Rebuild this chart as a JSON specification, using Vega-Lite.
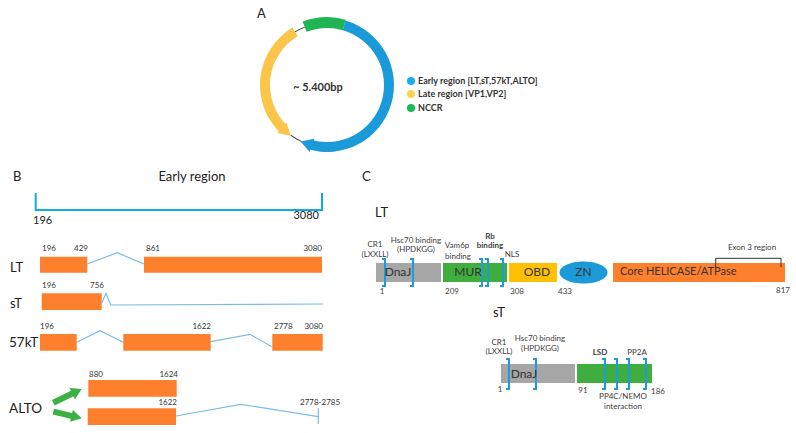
{
"$schema":"https://vega.github.io/schema/vega-lite/v6.json",
"width":796,"height":433,"autosize":"none","padding":0,"background":"white",
"config":{"view":{"stroke":null},"text":{"font":"Lato"}},
"datasets":{
"arcs":[
{"cx":327,"cy":85,"t1":16,"t2":197,"ri":57,"ro":67,"c":"blue"},
{"cx":327,"cy":85,"t1":224,"t2":329,"ri":57,"ro":67,"c":"yellow"},
{"cx":327,"cy":85,"t1":339,"t2":376,"ri":57,"ro":68,"c":"green"},
{"cx":327,"cy":85,"t1":204,"t2":216,"ri":61.5,"ro":62.5,"c":"black"},
{"cx":327,"cy":85,"t1":329,"t2":339,"ri":61.5,"ro":62.5,"c":"black"}
],
"heads":[
{"x":306.3,"y":143.4,"a":289.5,"c":"blue"},
{"x":286.3,"y":131.8,"a":131,"c":"yellow"}
],
"gheads":[
{"x":77,"y":391.3,"a":64,"c":"ga"},
{"x":76.6,"y":417.1,"a":103,"c":"ga"}
],
"segs":[
{"x":53.3,"y":402.7,"x2":77,"y2":391.3,"c":"ga"},
{"x":53.3,"y":411.7,"x2":76.6,"y2":417.1,"c":"ga"}
],
"legend":[
{"x":411,"y":81,"c":"lb"},{"x":411,"y":94,"c":"ly"},{"x":411,"y":108,"c":"lg"}
],
"zn":[{"x":583.5,"y":272.5,"c":"zn"}],
"rects":[
{"x":40,"x2":87.3,"y":256.7,"y2":272.7,"c":"or"},
{"x":144,"x2":322,"y":256.7,"y2":272.7,"c":"or"},
{"x":41.7,"x2":101.7,"y":293.3,"y2":310,"c":"or"},
{"x":40,"x2":76.7,"y":334,"y2":350.7,"c":"or"},
{"x":123.3,"x2":210.7,"y":334,"y2":350.7,"c":"or"},
{"x":272.3,"x2":322.7,"y":334,"y2":350.7,"c":"or"},
{"x":88.3,"x2":176.7,"y":380,"y2":396.7,"c":"or"},
{"x":87.7,"x2":176,"y":408.3,"y2":425,"c":"or"},
{"x":376,"x2":441,"y":263,"y2":282,"c":"grey"},
{"x":443,"x2":507,"y":263,"y2":282,"c":"mur"},
{"x":509,"x2":557,"y":263,"y2":282,"c":"obd"},
{"x":613,"x2":785,"y":263,"y2":282,"c":"or"},
{"x":501,"x2":575,"y":364,"y2":383,"c":"grey"},
{"x":577,"x2":652,"y":364,"y2":383,"c":"mur"}
],
"lines":[
{"g":"i1","i":1,"x":87.3,"y":264,"k":"intr"},{"g":"i1","i":2,"x":117.3,"y":252.7,"k":"intr"},{"g":"i1","i":3,"x":144,"y":264,"k":"intr"},
{"g":"i2","i":1,"x":101.7,"y":303.3,"k":"intr"},{"g":"i2","i":2,"x":106,"y":293.3,"k":"intr"},{"g":"i2","i":3,"x":110.7,"y":305,"k":"intr"},{"g":"i2","i":4,"x":323.3,"y":304,"k":"intr"},
{"g":"i3","i":1,"x":76.7,"y":342.3,"k":"intr"},{"g":"i3","i":2,"x":100,"y":330.7,"k":"intr"},{"g":"i3","i":3,"x":123.3,"y":342.3,"k":"intr"},
{"g":"i4","i":1,"x":210.7,"y":341.7,"k":"intr"},{"g":"i4","i":2,"x":250,"y":334.3,"k":"intr"},{"g":"i4","i":3,"x":271.7,"y":346.7,"k":"intr"},
{"g":"i5","i":1,"x":176,"y":416,"k":"intr"},{"g":"i5","i":2,"x":240.7,"y":404.3,"k":"intr"},{"g":"i5","i":3,"x":318.3,"y":416.7,"k":"intr"},
{"g":"i6","i":1,"x":318.3,"y":408.3,"k":"intr"},{"g":"i6","i":2,"x":318.3,"y":424,"k":"intr"},
{"g":"er","i":1,"x":35.7,"y":193,"k":"er"},{"g":"er","i":2,"x":35.7,"y":210,"k":"er"},{"g":"er","i":3,"x":322,"y":210,"k":"er"},{"g":"er","i":4,"x":322,"y":193,"k":"er"},
{"g":"ex","i":1,"x":715.7,"y":267,"k":"ex"},{"g":"ex","i":2,"x":715.7,"y":258.3,"k":"ex"},{"g":"ex","i":3,"x":781,"y":258.3,"k":"ex"},{"g":"ex","i":4,"x":781,"y":267,"k":"ex"},
{"g":"b1","i":1,"x":382,"y":259,"k":"br"},{"g":"b1","i":2,"x":385,"y":259,"k":"br"},{"g":"b1","i":3,"x":385,"y":286,"k":"br"},{"g":"b1","i":4,"x":382,"y":286,"k":"br"},
{"g":"b2","i":1,"x":410,"y":259,"k":"br"},{"g":"b2","i":2,"x":413,"y":259,"k":"br"},{"g":"b2","i":3,"x":413,"y":286,"k":"br"},{"g":"b2","i":4,"x":410,"y":286,"k":"br"},
{"g":"b3","i":1,"x":479,"y":259,"k":"br"},{"g":"b3","i":2,"x":482,"y":259,"k":"br"},{"g":"b3","i":3,"x":482,"y":286,"k":"br"},{"g":"b3","i":4,"x":479,"y":286,"k":"br"},
{"g":"b4","i":1,"x":485,"y":259,"k":"br"},{"g":"b4","i":2,"x":488,"y":259,"k":"br"},{"g":"b4","i":3,"x":488,"y":286,"k":"br"},{"g":"b4","i":4,"x":485,"y":286,"k":"br"},
{"g":"b5","i":1,"x":500,"y":259,"k":"br"},{"g":"b5","i":2,"x":503,"y":259,"k":"br"},{"g":"b5","i":3,"x":503,"y":286,"k":"br"},{"g":"b5","i":4,"x":500,"y":286,"k":"br"},
{"g":"s1","i":1,"x":506,"y":359,"k":"br"},{"g":"s1","i":2,"x":509,"y":359,"k":"br"},{"g":"s1","i":3,"x":509,"y":389,"k":"br"},{"g":"s1","i":4,"x":506,"y":389,"k":"br"},
{"g":"s2","i":1,"x":533,"y":359,"k":"br"},{"g":"s2","i":2,"x":536,"y":359,"k":"br"},{"g":"s2","i":3,"x":536,"y":389,"k":"br"},{"g":"s2","i":4,"x":533,"y":389,"k":"br"},
{"g":"s3","i":1,"x":602,"y":359,"k":"br"},{"g":"s3","i":2,"x":605,"y":359,"k":"br"},{"g":"s3","i":3,"x":605,"y":389,"k":"br"},{"g":"s3","i":4,"x":602,"y":389,"k":"br"},
{"g":"s4","i":1,"x":614,"y":359,"k":"br"},{"g":"s4","i":2,"x":617,"y":359,"k":"br"},{"g":"s4","i":3,"x":617,"y":389,"k":"br"},{"g":"s4","i":4,"x":614,"y":389,"k":"br"},
{"g":"s5","i":1,"x":626,"y":359,"k":"br"},{"g":"s5","i":2,"x":629,"y":359,"k":"br"},{"g":"s5","i":3,"x":629,"y":389,"k":"br"},{"g":"s5","i":4,"x":626,"y":389,"k":"br"},
{"g":"s6","i":1,"x":643,"y":359,"k":"br"},{"g":"s6","i":2,"x":646,"y":359,"k":"br"},{"g":"s6","i":3,"x":646,"y":389,"k":"br"},{"g":"s6","i":4,"x":643,"y":389,"k":"br"}
],
"texts":[
{"x":257,"y":14,"t":"A","k":"h13"},{"x":13,"y":177,"t":"B","k":"h13"},{"x":362,"y":177,"t":"C","k":"h13"},
{"x":10,"y":268,"t":"LT","k":"h13"},{"x":10,"y":304,"t":"sT","k":"h13"},{"x":375,"y":213,"t":"LT","k":"h13"},{"x":493,"y":313,"t":"sT","k":"h13"},
{"x":9,"y":343,"t":"57kT","k":"h14"},{"x":9,"y":409,"t":"ALTO","k":"h14"},
{"x":192,"y":177,"t":"Early region","k":"title"},
{"x":33,"y":221,"t":"196","k":"axl"},{"x":319,"y":216,"t":"3080","k":"axr"},
{"x":42,"y":249,"t":"196","k":"nl"},{"x":74,"y":249,"t":"429","k":"nl"},{"x":146,"y":249,"t":"861","k":"nl"},
{"x":42,"y":286,"t":"196","k":"nl"},{"x":90,"y":286,"t":"756","k":"nl"},
{"x":40,"y":327,"t":"196","k":"nl"},{"x":274,"y":327,"t":"2778","k":"nl"},
{"x":89,"y":375,"t":"880","k":"nl"},{"x":300,"y":403,"t":"2778-2785","k":"nl"},
{"x":322,"y":249,"t":"3080","k":"nr"},{"x":211,"y":327,"t":"1622","k":"nr"},{"x":323,"y":327,"t":"3080","k":"nr"},
{"x":178,"y":375,"t":"1624","k":"nr"},{"x":177,"y":403,"t":"1622","k":"nr"},
{"x":375,"y":245,"t":"CR1","k":"sc"},{"x":375,"y":254.5,"t":"(LXXLL)","k":"sc"},
{"x":416,"y":241,"t":"Hsc70 binding","k":"sc"},{"x":416,"y":250,"t":"(HPDKGG)","k":"sc"},
{"x":457,"y":246,"t":"Vam6p","k":"sc"},{"x":458,"y":257,"t":"binding","k":"sc"},
{"x":512,"y":255,"t":"NLS","k":"sc"},{"x":752,"y":248,"t":"Exon 3 region","k":"sc"},
{"x":382,"y":292,"t":"1","k":"sc"},{"x":452,"y":292,"t":"209","k":"sc"},{"x":517,"y":292,"t":"308","k":"sc"},{"x":565,"y":292,"t":"433","k":"sc"},{"x":783,"y":291,"t":"817","k":"sc"},
{"x":499,"y":343,"t":"CR1","k":"sc"},{"x":499,"y":352,"t":"(LXXLL)","k":"sc"},
{"x":540,"y":339,"t":"Hsc70 binding","k":"sc"},{"x":540,"y":349,"t":"(HPDKGG)","k":"sc"},
{"x":637,"y":353,"t":"PP2A","k":"sc"},
{"x":500,"y":390,"t":"1","k":"sc"},{"x":583,"y":391,"t":"91","k":"sc"},{"x":623,"y":397,"t":"PP4C/NEMO","k":"sc"},{"x":623,"y":407,"t":"interaction","k":"sc"},{"x":658,"y":392,"t":"186","k":"sc"},
{"x":490,"y":236.5,"t":"Rb","k":"sb"},{"x":490,"y":246,"t":"binding","k":"sb"},{"x":600,"y":353,"t":"LSD","k":"sb"},
{"x":398,"y":272,"t":"DnaJ","k":"dom"},{"x":468,"y":272,"t":"MUR","k":"dom"},{"x":537,"y":272,"t":"OBD","k":"dom"},{"x":583.5,"y":272,"t":"ZN","k":"dom"},{"x":524,"y":374,"t":"DnaJ","k":"dom"},
{"x":620,"y":272,"t":"Core HELICASE/ATPase","k":"doml"},
{"x":418,"y":81,"t":"Early region [LT,sT,57kT,ALTO]","k":"leg"},{"x":418,"y":94,"t":"Late region [VP1,VP2]","k":"leg"},{"x":418,"y":108,"t":"NCCR","k":"leg"},
{"x":318,"y":88,"t":"~ 5.400bp","k":"ctr"}
]
},
"layer":[
{"data":{"name":"rects"},"mark":{"type":"rect"},
 "encoding":{
  "x":{"field":"x","type":"quantitative","scale":{"domain":[0,796],"nice":false,"zero":false},"axis":null},
  "x2":{"field":"x2"},
  "y":{"field":"y","type":"quantitative","scale":{"domain":[0,433],"nice":false,"zero":false,"reverse":true},"axis":null},
  "y2":{"field":"y2"},
  "color":{"field":"c","type":"nominal","legend":null,"scale":{"domain":["blue","yellow","green","black","lb","ly","lg","or","grey","mur","obd","zn","ga"],"range":["#1a9ad9","#fbc54a","#1fb555","#333333","#17b0ef","#ffd34f","#1db954","#fe7f2c","#a6a6a6","#3fae3f","#ffc000","#1c9ad8","#3cb043"]}}
 }},
{"data":{"name":"arcs"},"mark":{"type":"arc"},
 "encoding":{
  "x":{"field":"cx","type":"quantitative","scale":{"domain":[0,796],"nice":false,"zero":false},"axis":null},
  "y":{"field":"cy","type":"quantitative","scale":{"domain":[0,433],"nice":false,"zero":false,"reverse":true},"axis":null},
  "theta":{"field":"t1","type":"quantitative","scale":{"type":"linear","domain":[0,360],"range":[0,6.283185307],"zero":false,"nice":false}},
  "theta2":{"field":"t2"},
  "radius":{"field":"ri","type":"quantitative","scale":{"type":"linear","domain":[0,100],"range":[0,100],"zero":true,"nice":false}},
  "radius2":{"field":"ro"},
  "color":{"field":"c","type":"nominal","legend":null,"scale":{"domain":["blue","yellow","green","black","lb","ly","lg","or","grey","mur","obd","zn","ga"],"range":["#1a9ad9","#fbc54a","#1fb555","#333333","#17b0ef","#ffd34f","#1db954","#fe7f2c","#a6a6a6","#3fae3f","#ffc000","#1c9ad8","#3cb043"]}}
 }},
{"data":{"name":"heads"},"mark":{"type":"point","shape":"triangle-up","filled":true,"size":196,"opacity":1},
 "encoding":{
  "x":{"field":"x","type":"quantitative","scale":{"domain":[0,796],"nice":false,"zero":false},"axis":null},
  "y":{"field":"y","type":"quantitative","scale":{"domain":[0,433],"nice":false,"zero":false,"reverse":true},"axis":null},
  "angle":{"field":"a","type":"quantitative","scale":null},
  "color":{"field":"c","type":"nominal","legend":null,"scale":{"domain":["blue","yellow","green","black","lb","ly","lg","or","grey","mur","obd","zn","ga"],"range":["#1a9ad9","#fbc54a","#1fb555","#333333","#17b0ef","#ffd34f","#1db954","#fe7f2c","#a6a6a6","#3fae3f","#ffc000","#1c9ad8","#3cb043"]}}
 }},
{"data":{"name":"segs"},"mark":{"type":"rule","strokeWidth":6,"strokeCap":"butt"},
 "encoding":{
  "x":{"field":"x","type":"quantitative","scale":{"domain":[0,796],"nice":false,"zero":false},"axis":null},
  "x2":{"field":"x2"},
  "y":{"field":"y","type":"quantitative","scale":{"domain":[0,433],"nice":false,"zero":false,"reverse":true},"axis":null},
  "y2":{"field":"y2"},
  "color":{"field":"c","type":"nominal","legend":null,"scale":{"domain":["blue","yellow","green","black","lb","ly","lg","or","grey","mur","obd","zn","ga"],"range":["#1a9ad9","#fbc54a","#1fb555","#333333","#17b0ef","#ffd34f","#1db954","#fe7f2c","#a6a6a6","#3fae3f","#ffc000","#1c9ad8","#3cb043"]}}
 }},
{"data":{"name":"gheads"},"mark":{"type":"point","shape":"triangle-up","filled":true,"size":150,"opacity":1},
 "encoding":{
  "x":{"field":"x","type":"quantitative","scale":{"domain":[0,796],"nice":false,"zero":false},"axis":null},
  "y":{"field":"y","type":"quantitative","scale":{"domain":[0,433],"nice":false,"zero":false,"reverse":true},"axis":null},
  "angle":{"field":"a","type":"quantitative","scale":null},
  "color":{"field":"c","type":"nominal","legend":null,"scale":{"domain":["blue","yellow","green","black","lb","ly","lg","or","grey","mur","obd","zn","ga"],"range":["#1a9ad9","#fbc54a","#1fb555","#333333","#17b0ef","#ffd34f","#1db954","#fe7f2c","#a6a6a6","#3fae3f","#ffc000","#1c9ad8","#3cb043"]}}
 }},
{"data":{"name":"legend"},"mark":{"type":"point","shape":"circle","filled":true,"size":64,"opacity":1},
 "encoding":{
  "x":{"field":"x","type":"quantitative","scale":{"domain":[0,796],"nice":false,"zero":false},"axis":null},
  "y":{"field":"y","type":"quantitative","scale":{"domain":[0,433],"nice":false,"zero":false,"reverse":true},"axis":null},
  "color":{"field":"c","type":"nominal","legend":null,"scale":{"domain":["blue","yellow","green","black","lb","ly","lg","or","grey","mur","obd","zn","ga"],"range":["#1a9ad9","#fbc54a","#1fb555","#333333","#17b0ef","#ffd34f","#1db954","#fe7f2c","#a6a6a6","#3fae3f","#ffc000","#1c9ad8","#3cb043"]}}
 }},
{"data":{"name":"zn"},"mark":{"type":"point","shape":"M-1,0A1,0.46,0,1,1,1,0A1,0.46,0,1,1,-1,0Z","filled":true,"size":2304,"opacity":1},
 "encoding":{
  "x":{"field":"x","type":"quantitative","scale":{"domain":[0,796],"nice":false,"zero":false},"axis":null},
  "y":{"field":"y","type":"quantitative","scale":{"domain":[0,433],"nice":false,"zero":false,"reverse":true},"axis":null},
  "color":{"field":"c","type":"nominal","legend":null,"scale":{"domain":["blue","yellow","green","black","lb","ly","lg","or","grey","mur","obd","zn","ga"],"range":["#1a9ad9","#fbc54a","#1fb555","#333333","#17b0ef","#ffd34f","#1db954","#fe7f2c","#a6a6a6","#3fae3f","#ffc000","#1c9ad8","#3cb043"]}}
 }},
{"data":{"name":"lines"},"transform":[{"filter":"datum.k==='intr'"}],"mark":{"type":"line","color":"#78bde9","strokeWidth":1.2},
 "encoding":{
  "x":{"field":"x","type":"quantitative","scale":{"domain":[0,796],"nice":false,"zero":false},"axis":null},
  "y":{"field":"y","type":"quantitative","scale":{"domain":[0,433],"nice":false,"zero":false,"reverse":true},"axis":null},
  "detail":{"field":"g"},"order":{"field":"i"}
 }},
{"data":{"name":"lines"},"transform":[{"filter":"datum.k==='er'"}],"mark":{"type":"line","color":"#12a9e6","strokeWidth":2},
 "encoding":{
  "x":{"field":"x","type":"quantitative","scale":{"domain":[0,796],"nice":false,"zero":false},"axis":null},
  "y":{"field":"y","type":"quantitative","scale":{"domain":[0,433],"nice":false,"zero":false,"reverse":true},"axis":null},
  "detail":{"field":"g"},"order":{"field":"i"}
 }},
{"data":{"name":"lines"},"transform":[{"filter":"datum.k==='ex'"}],"mark":{"type":"line","color":"#333333","strokeWidth":1},
 "encoding":{
  "x":{"field":"x","type":"quantitative","scale":{"domain":[0,796],"nice":false,"zero":false},"axis":null},
  "y":{"field":"y","type":"quantitative","scale":{"domain":[0,433],"nice":false,"zero":false,"reverse":true},"axis":null},
  "detail":{"field":"g"},"order":{"field":"i"}
 }},
{"data":{"name":"lines"},"transform":[{"filter":"datum.k==='br'"}],"mark":{"type":"line","color":"#1c9be0","strokeWidth":2},
 "encoding":{
  "x":{"field":"x","type":"quantitative","scale":{"domain":[0,796],"nice":false,"zero":false},"axis":null},
  "y":{"field":"y","type":"quantitative","scale":{"domain":[0,433],"nice":false,"zero":false,"reverse":true},"axis":null},
  "detail":{"field":"g"},"order":{"field":"i"}
 }},
{"data":{"name":"texts"},"transform":[{"filter":"datum.k==='h13'"}],"mark":{"type":"text","align":"left","baseline":"middle","fontSize":13,"color":"#222222"},
 "encoding":{"x":{"field":"x","type":"quantitative","scale":{"domain":[0,796],"nice":false,"zero":false},"axis":null},"y":{"field":"y","type":"quantitative","scale":{"domain":[0,433],"nice":false,"zero":false,"reverse":true},"axis":null},"text":{"field":"t"}}},
{"data":{"name":"texts"},"transform":[{"filter":"datum.k==='h14'"}],"mark":{"type":"text","align":"left","baseline":"middle","fontSize":13.5,"color":"#222222"},
 "encoding":{"x":{"field":"x","type":"quantitative","scale":{"domain":[0,796],"nice":false,"zero":false},"axis":null},"y":{"field":"y","type":"quantitative","scale":{"domain":[0,433],"nice":false,"zero":false,"reverse":true},"axis":null},"text":{"field":"t"}}},
{"data":{"name":"texts"},"transform":[{"filter":"datum.k==='title'"}],"mark":{"type":"text","align":"center","baseline":"middle","fontSize":13,"color":"#222222"},
 "encoding":{"x":{"field":"x","type":"quantitative","scale":{"domain":[0,796],"nice":false,"zero":false},"axis":null},"y":{"field":"y","type":"quantitative","scale":{"domain":[0,433],"nice":false,"zero":false,"reverse":true},"axis":null},"text":{"field":"t"}}},
{"data":{"name":"texts"},"transform":[{"filter":"datum.k==='axl'"}],"mark":{"type":"text","align":"left","baseline":"middle","fontSize":11,"color":"#222222"},
 "encoding":{"x":{"field":"x","type":"quantitative","scale":{"domain":[0,796],"nice":false,"zero":false},"axis":null},"y":{"field":"y","type":"quantitative","scale":{"domain":[0,433],"nice":false,"zero":false,"reverse":true},"axis":null},"text":{"field":"t"}}},
{"data":{"name":"texts"},"transform":[{"filter":"datum.k==='axr'"}],"mark":{"type":"text","align":"right","baseline":"middle","fontSize":11,"color":"#222222"},
 "encoding":{"x":{"field":"x","type":"quantitative","scale":{"domain":[0,796],"nice":false,"zero":false},"axis":null},"y":{"field":"y","type":"quantitative","scale":{"domain":[0,433],"nice":false,"zero":false,"reverse":true},"axis":null},"text":{"field":"t"}}},
{"data":{"name":"texts"},"transform":[{"filter":"datum.k==='nl'"}],"mark":{"type":"text","align":"left","baseline":"middle","fontSize":8,"color":"#333333"},
 "encoding":{"x":{"field":"x","type":"quantitative","scale":{"domain":[0,796],"nice":false,"zero":false},"axis":null},"y":{"field":"y","type":"quantitative","scale":{"domain":[0,433],"nice":false,"zero":false,"reverse":true},"axis":null},"text":{"field":"t"}}},
{"data":{"name":"texts"},"transform":[{"filter":"datum.k==='nr'"}],"mark":{"type":"text","align":"right","baseline":"middle","fontSize":8,"color":"#333333"},
 "encoding":{"x":{"field":"x","type":"quantitative","scale":{"domain":[0,796],"nice":false,"zero":false},"axis":null},"y":{"field":"y","type":"quantitative","scale":{"domain":[0,433],"nice":false,"zero":false,"reverse":true},"axis":null},"text":{"field":"t"}}},
{"data":{"name":"texts"},"transform":[{"filter":"datum.k==='sc'"}],"mark":{"type":"text","align":"center","baseline":"middle","fontSize":8,"color":"#404040"},
 "encoding":{"x":{"field":"x","type":"quantitative","scale":{"domain":[0,796],"nice":false,"zero":false},"axis":null},"y":{"field":"y","type":"quantitative","scale":{"domain":[0,433],"nice":false,"zero":false,"reverse":true},"axis":null},"text":{"field":"t"}}},
{"data":{"name":"texts"},"transform":[{"filter":"datum.k==='sb'"}],"mark":{"type":"text","align":"center","baseline":"middle","fontSize":8,"fontWeight":"bold","color":"#404040"},
 "encoding":{"x":{"field":"x","type":"quantitative","scale":{"domain":[0,796],"nice":false,"zero":false},"axis":null},"y":{"field":"y","type":"quantitative","scale":{"domain":[0,433],"nice":false,"zero":false,"reverse":true},"axis":null},"text":{"field":"t"}}},
{"data":{"name":"texts"},"transform":[{"filter":"datum.k==='dom'"}],"mark":{"type":"text","align":"center","baseline":"middle","fontSize":12,"color":"#333333"},
 "encoding":{"x":{"field":"x","type":"quantitative","scale":{"domain":[0,796],"nice":false,"zero":false},"axis":null},"y":{"field":"y","type":"quantitative","scale":{"domain":[0,433],"nice":false,"zero":false,"reverse":true},"axis":null},"text":{"field":"t"}}},
{"data":{"name":"texts"},"transform":[{"filter":"datum.k==='doml'"}],"mark":{"type":"text","align":"left","baseline":"middle","fontSize":11,"color":"#333333"},
 "encoding":{"x":{"field":"x","type":"quantitative","scale":{"domain":[0,796],"nice":false,"zero":false},"axis":null},"y":{"field":"y","type":"quantitative","scale":{"domain":[0,433],"nice":false,"zero":false,"reverse":true},"axis":null},"text":{"field":"t"}}},
{"data":{"name":"texts"},"transform":[{"filter":"datum.k==='leg'"}],"mark":{"type":"text","align":"left","baseline":"middle","fontSize":9,"fontWeight":"bold","color":"#333333"},
 "encoding":{"x":{"field":"x","type":"quantitative","scale":{"domain":[0,796],"nice":false,"zero":false},"axis":null},"y":{"field":"y","type":"quantitative","scale":{"domain":[0,433],"nice":false,"zero":false,"reverse":true},"axis":null},"text":{"field":"t"}}},
{"data":{"name":"texts"},"transform":[{"filter":"datum.k==='ctr'"}],"mark":{"type":"text","align":"center","baseline":"middle","fontSize":11,"fontWeight":"bold","color":"#333333"},
 "encoding":{"x":{"field":"x","type":"quantitative","scale":{"domain":[0,796],"nice":false,"zero":false},"axis":null},"y":{"field":"y","type":"quantitative","scale":{"domain":[0,433],"nice":false,"zero":false,"reverse":true},"axis":null},"text":{"field":"t"}}}
]
}
